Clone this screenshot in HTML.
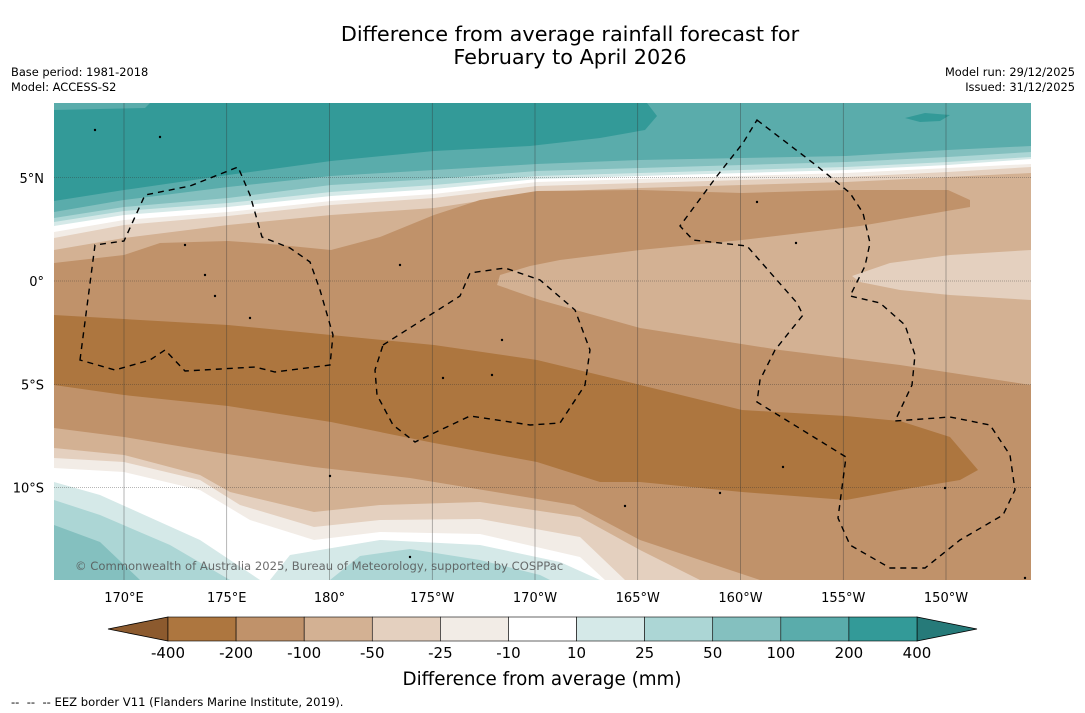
<!DOCTYPE html>
<html><head><meta charset="utf-8"><style>
html,body{margin:0;padding:0;background:#fff;}
svg{display:block;font-family:"DejaVu Sans","Liberation Sans",sans-serif;}
</style></head><body>
<svg id="fig" width="1085" height="713" viewBox="0 0 1085 713">
<text x="570" y="41" text-anchor="middle" font-size="20.8">Difference from average rainfall forecast for</text>
<text x="570" y="64" text-anchor="middle" font-size="20.8">February to April 2026</text>
<text x="11" y="76" font-size="11.4">Base period: 1981-2018</text>
<text x="11" y="91" font-size="11.4">Model: ACCESS-S2</text>
<text x="1075" y="76" font-size="11.4" text-anchor="end">Model run: 29/12/2025</text>
<text x="1075" y="91" font-size="11.4" text-anchor="end">Issued: 31/12/2025</text>
<defs><clipPath id="mapclip"><rect x="54" y="103" width="977" height="477"/></clipPath></defs>
<g id="map" clip-path="url(#mapclip)"></g>
<g id="axes"></g>
<g id="cbar"></g>
<text x="542" y="685" text-anchor="middle" font-size="18.3">Difference from average (mm)</text>
<text x="11" y="706" font-size="11.6" xml:space="preserve">--  --  -- EEZ border V11 (Flanders Marine Institute, 2019).</text>
</svg>
<script>
const NS="http://www.w3.org/2000/svg";
// colorbar data
const levelLabels=["-400","-200","-100","-50","-25","-10","10","25","50","100","200","400"];
const bandColors=["#ad763f","#c0926a","#d3b193","#e4d0bf","#f2ece6","#ffffff","#d5e9e8","#acd6d5","#84c0bf","#5aacab","#339a98"];
const underColor="#8c5a2e";
const overColor="#267a79";
// axis ticks
const lonTicks=[170,175,180,185,190,195,200,205,210];
const lonLabels=["170°E","175°E","180°","175°W","170°W","165°W","160°W","155°W","150°W"];
const latTicks=[5,0,-5,-10];
const latLabels=["5°N","0°","5°S","10°S"];
// axis functions
const xLon=lon=>124+(lon-170)*20.55;
const yLat=lat=>281-lat*20.65;
function mk(tag,attrs,parent){const e=document.createElementNS(NS,tag);for(const k in attrs)e.setAttribute(k,attrs[k]);parent.appendChild(e);return e;}
const map=document.getElementById('map');
function poly(pts,fill,name){
  const e=mk('polygon',{points:pts.map(p=>p.join(',')).join(' '),fill:fill},map);
  
  
}
function below(pts,fill,name){poly([...pts,[1031,580],[54,580]],fill,name);}
const C=bandColors;
poly([[54,103],[1031,103],[1031,580],[54,580]],C[10],'band-200-400');
poly([[54,110],[145,108],[150,103],[54,103]],C[9],'band-100-200-topleft');
poly([[54,201],[124,190],[228,175],[331,161],[434,151],[530,146],[600,138],[645,130],[657,116],[647,103],[1031,103],[1031,580],[54,580]],C[9],'band-100-200');
poly([[905,118],[925,113],[950,115],[940,121],[920,122]],C[10],'band-200-400-blob');
const xs=[54,124,228,331,434,537,640,742,846,948,1031];
const upper=[
 [[212,200,187,176,170,164,160,158,156,150,146],C[8],'band-50-100'],
 [[218,207,198,185,179,171,168,165,162,157,152],C[7],'band-25-50'],
 [[222,211,203,192,185,176,173,170,167,162,157],C[6],'band-10-25'],
 [[226,215,207,196,189,179,176,173,170,165,159],C[5],'band-neutral'],
 [[232,220,212,201,194,182,179,176,173,168,164],C[4],'band-minus10-25'],
 [[238,225,216,205,198,186,183,180,177,172,167],C[3],'band-minus25-50'],
 [[250,238,225,215,208,192,188,185,182,177,173],C[2],'band-minus50-100']
];
upper.forEach(([ys,col,nm])=>below(xs.map((x,i)=>[x,ys[i]]),col,nm));
poly([[54,263],[124,255],[160,243],[228,241],[270,244],[331,250],[380,237],[434,215],[480,200],[537,191],[640,190],[742,193],[846,190],[948,190],[970,200],[970,207],[860,226],[742,240],[640,250],[560,260],[530,266],[500,275],[497,285],[540,300],[640,328],[780,350],[900,365],[1031,385],[1031,580],[54,580]],C[1],'band-minus100-200');
poly([[852,276],[890,263],[950,255],[1031,250],[1031,300],[950,295],[900,290],[860,282]],C[3],'band-minus25-50-east');
poly([[54,315],[228,325],[331,335],[434,345],[537,360],[620,380],[742,410],[846,416],[900,421],[950,437],[978,470],[960,480],[900,490],[846,500],[742,492],[640,482],[600,482],[537,462],[434,443],[331,422],[228,406],[124,395],[54,385]],C[0],'band-minus200-400');
const lower=[
 [[[54,428],[124,437],[214,452],[314,467],[410,478],[574,505],[640,540],[760,580]],C[2],'band-minus50-100-south'],
 [[[54,448],[124,455],[200,475],[230,492],[314,512],[380,505],[480,502],[580,517],[640,550],[700,580]],C[3],'band-minus25-50-south'],
 [[[54,458],[124,462],[200,480],[240,505],[314,527],[380,520],[480,519],[580,537],[625,580]],C[4],'band-minus10-25-south'],
 [[[54,468],[124,472],[200,490],[250,520],[314,540],[380,532],[480,534],[580,557],[605,580]],C[5],'band-neutral-south']
];
lower.forEach(([pts,col,nm])=>poly([...pts,[pts[pts.length-1][0],580],[54,580]],col,nm));
poly([[54,482],[100,495],[200,540],[260,580],[54,580]],C[6],'band-10-25-southwest');
poly([[270,580],[290,555],[380,540],[480,545],[560,562],[600,580]],C[6],'band-10-25-blob');
poly([[54,500],[100,515],[170,545],[230,580],[54,580]],C[7],'band-25-50-southwest');
poly([[330,580],[360,556],[410,549],[480,560],[540,575],[550,580]],C[7],'band-25-50-blob');
poly([[54,525],[100,542],[140,580],[54,580]],C[8],'band-50-100-southwest');
lonTicks.forEach(l=>{const g=mk('line',{x1:xLon(l),x2:xLon(l),y1:103,y2:580,stroke:'#333','stroke-width':0.6,'stroke-opacity':0.6},map);
 });
latTicks.forEach(l=>{const g=mk('line',{x1:54,x2:1031,y1:yLat(l),y2:yLat(l),stroke:'#333','stroke-width':0.6,'stroke-dasharray':'1,1','stroke-opacity':0.7},map);
 });
const eez=[
 "M80,360 L95,245 L124,241 L145,195 L190,186 L238,167 L250,195 L262,237 L290,248 L310,262 L320,290 L333,335 L330,365 L275,372 L255,367 L185,371 L165,350 L150,360 L115,370 Z",
 "M383,345 L460,296 L470,273 L505,268 L540,280 L575,310 L590,350 L585,385 L560,423 L530,425 L470,416 L415,442 L393,425 L377,395 L375,370 Z",
 "M757,120 L817,166 L850,193 L863,213 L870,243 L865,266 L850,296 L880,303 L905,325 L915,355 L912,385 L895,421 L950,417 L990,425 L1010,455 L1015,490 L1003,515 L960,540 L925,568 L890,568 L850,545 L838,518 L846,457 L757,402 L760,380 L775,350 L803,315 L797,303 L747,246 L693,240 L680,226 L717,176 L743,143 Z"
];
eez.forEach(d=>{const p=mk('path',{d:d,fill:'none',stroke:'#000','stroke-width':1.4,'stroke-dasharray':'6,5'},map);
 });
[[95,130],[160,137],[185,245],[205,275],[215,296],[250,318],[400,265],[502,340],[443,378],[492,375],[757,202],[796,243],[783,467],[720,493],[945,488],[330,476],[410,557],[625,506],[1025,578]].forEach(p=>{
 const d=mk('circle',{cx:p[0],cy:p[1],r:1.2,fill:'#000'},map);
 });
const cp=mk('text',{x:75,y:570,'font-size':11.6,fill:'#555','fill-opacity':0.85},map);

cp.textContent="© Commonwealth of Australia 2025, Bureau of Meteorology, supported by COSPPac";
const ax=document.getElementById('axes');
lonTicks.forEach((l,i)=>{const t=mk('text',{x:xLon(l),y:602,'text-anchor':'middle','font-size':13},ax);
 t.textContent=lonLabels[i];});
latTicks.forEach((l,i)=>{const t=mk('text',{x:44,y:yLat(l)+5,'text-anchor':'end','font-size':13},ax);
 t.textContent=latLabels[i];});
const cb=document.getElementById('cbar');
const cx0=168,cx1=917,cy0=617,cy1=641,bw=(cx1-cx0)/bandColors.length;
const lt=mk('polygon',{points:`108,629 ${cx0},${cy0} ${cx0},${cy1}`,fill:underColor,stroke:'#000','stroke-width':0.8},cb);

const rt=mk('polygon',{points:`977,629 ${cx1},${cy0} ${cx1},${cy1}`,fill:overColor,stroke:'#000','stroke-width':0.8},cb);

bandColors.forEach((c,i)=>{const r=mk('rect',{x:cx0+i*bw,y:cy0,width:bw,height:cy1-cy0,fill:c,stroke:'#000','stroke-width':0.6},cb);
 });
levelLabels.forEach((s,i)=>{const t=mk('text',{x:cx0+i*bw,y:658,'text-anchor':'middle','font-size':15},cb);
 t.textContent=s;});
</script>
</body></html>
